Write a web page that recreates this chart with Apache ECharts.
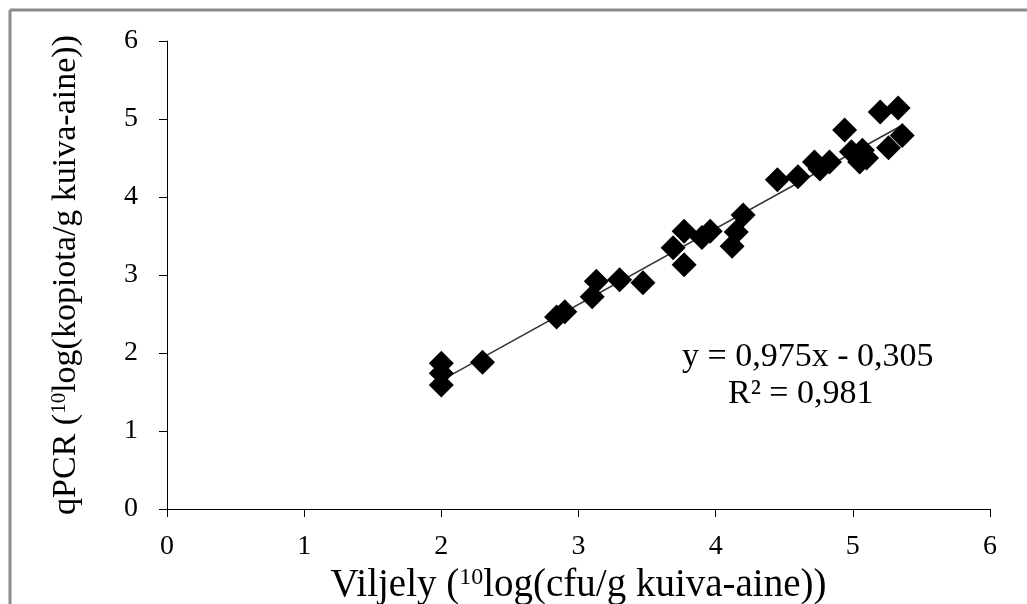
<!DOCTYPE html>
<html>
<head>
    <meta charset="utf-8">
    <script src="https://cdn.jsdelivr.net/npm/echarts@6/dist/echarts.min.js"></script>
    <style>
        html, body { margin: 0; padding: 0; background: #fff; }
    </style>
</head>
<body>
<div id="chart" style="width: 1027px; height: 604px;"></div>
<script type="text/javascript">
    // Data: viljely (x) vs qPCR (y), both 10log
    var viljely = [2.00, 2.00, 2.00, 2.30, 2.84, 2.90, 3.10, 3.13, 3.30, 3.47,
                   3.69, 3.77, 3.77, 3.90, 3.96, 4.12, 4.15, 4.20, 4.45, 4.60,
                   4.72, 4.76, 4.83, 4.94, 4.99, 5.07, 5.05, 5.10, 5.26, 5.36,
                   5.20, 5.33];
    var qpcr    = [1.87, 1.74, 1.59, 1.88, 2.46, 2.53, 2.72, 2.92, 2.94, 2.90,
                   3.35, 3.56, 3.13, 3.48, 3.56, 3.37, 3.55, 3.77, 4.22, 4.26,
                   4.45, 4.36, 4.45, 4.86, 4.58, 4.60, 4.45, 4.50, 4.63, 4.79,
                   5.09, 5.14];

    // trendline end points (as drawn)
    var trendX = [1.99, 5.36];
    var trendY = [1.64, 4.92];

    var equationText = 'y = 0,975x - 0,305';
    var r2Text = 'R\u00B2 = 0,981';

    var points = viljely.map(function (x, i) { return [x, qpcr[i]]; });
    var trend = trendX.map(function (x, i) { return [x, trendY[i]]; });

    var serif = '"Liberation Serif", "Times New Roman", serif';

    function nameStyle(size, supSize) {
        return {
            fontFamily: serif, fontSize: size, color: '#000',
            rich: { sup: { fontFamily: serif, fontSize: supSize, color: '#000', verticalAlign: 'top' } }
        };
    }

    var chart = echarts.init(document.getElementById('chart'));
    var axisCommon = {
        type: 'value',
        min: 0,
        max: 6,
        interval: 1,
        nameLocation: 'middle',
        axisLine: { show: true, onZero: false, lineStyle: { color: '#000', width: 1 } },
        axisTick: { show: true, length: 8, lineStyle: { color: '#000', width: 1 } },
        splitLine: { show: false }
    };

    var option = {
        backgroundColor: '#fff',
        animation: false,
        grid: { left: 167, right: 37, top: 41, bottom: 95, containLabel: false, outerBoundsMode: 'none' },
        xAxis: Object.assign({}, axisCommon, {
            name: 'Viljely ({sup|10}log(cfu/g kuiva-aine))',
            nameGap: 47,
            nameTextStyle: nameStyle(39, 24),
            axisLabel: { fontFamily: serif, fontSize: 28, color: '#000', margin: 24 }
        }),
        yAxis: Object.assign({}, axisCommon, {
            name: 'qPCR ({sup|10}log(kopiota/g kuiva-aine))',
            nameGap: 84,
            nameRotate: 90,
            nameTextStyle: nameStyle(34, 21),
            axisLabel: { fontFamily: serif, fontSize: 28, color: '#000', margin: 29 }
        }),
        graphic: [
            { type: 'line', shape: { x1: 10, y1: 10, x2: 1027, y2: 10 }, style: { stroke: '#8c8c8c', lineWidth: 3 } },
            { type: 'line', shape: { x1: 10, y1: 10, x2: 10, y2: 604 }, style: { stroke: '#8c8c8c', lineWidth: 3 } },
            { type: 'text', left: 682, top: 340, style: { text: equationText, font: '34px ' + serif, fill: '#000' } },
            { type: 'text', left: 728, top: 377, style: { text: r2Text, font: '34px ' + serif, fill: '#000' } }
        ],
        series: [
            {
                type: 'line',
                data: trend,
                symbol: 'none',
                lineStyle: { color: '#333', width: 1.5 },
                z: 1
            },
            {
                type: 'scatter',
                data: points,
                symbol: 'diamond',
                symbolSize: 25,
                itemStyle: { color: '#000', opacity: 1 },
                z: 2
            }
        ]
    };
    chart.setOption(option);
</script>
</body>
</html>
